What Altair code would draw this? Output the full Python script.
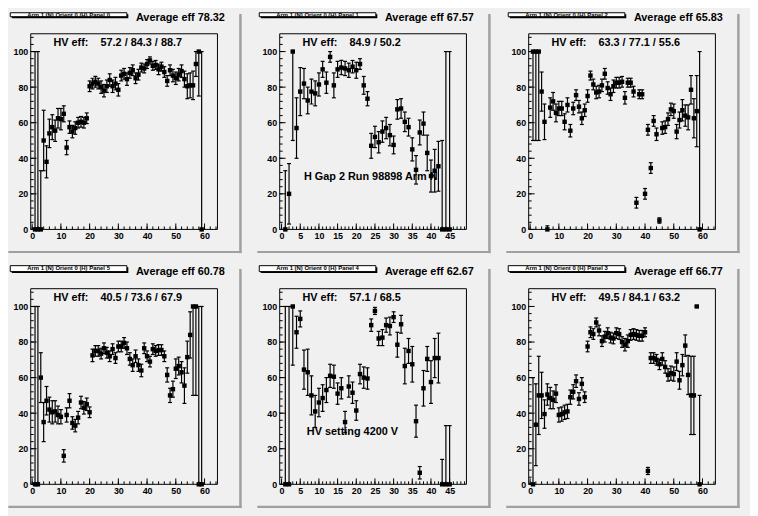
import altair as alt
import pandas as pd

# ---------------- data ----------------
panel_titles = ["Arm 1 (N) Orient 0 (H) Panel 0", "Arm 1 (N) Orient 0 (H) Panel 1",
                "Arm 1 (N) Orient 0 (H) Panel 2", "Arm 1 (N) Orient 0 (H) Panel 5",
                "Arm 1 (N) Orient 0 (H) Panel 4", "Arm 1 (N) Orient 0 (H) Panel 3"]
avg_eff = ["78.32", "67.57", "65.83", "60.78", "62.67", "66.77"]
hv_eff = ["57.2 / 84.3 / 88.7", "84.9 / 50.2", "63.3 / 77.1 / 55.6",
          "40.5 / 73.6 / 67.9", "57.1 / 68.5", "49.5 / 84.1 / 63.2"]
notes = [None, "H Gap 2 Run 98898 Arm N", None, None, "HV setting 4200 V", None]
x_last = [64, 49, 64, 64, 49, 64]
x_major_65 = [0, 10, 20, 30, 40, 50, 60]
x_major_50 = [0, 5, 10, 15, 20, 25, 30, 35, 40, 45]
y_major = [0, 20, 40, 60, 80, 100]

eff_p0 = [0, 0, 0, 50, 38, 54, 57.5, 55.5, 62.5, 62,
          65, 46, 57.5, 55, 57, 60, 60.5, 60, 62.5, 80.5,
          82, 83, 82, 80, 78, 80.5, 84, 80.5, 82, 78.5,
          86.5, 87.5, 84.5, 88, 89.5, 85, 87, 91, 90.5, 93,
          95, 92, 92.5, 90, 91.5, 88.5, 83.5, 89.5, 86.5, 85,
          87, 89, 84.5, 80.5, 81, 81, 93, 100, 0]
err_p0 = [100, 100, 33, 17, 9, 8, 7, 6, 5.5, 6,
          4.5, 4, 3.5, 3.5, 3.5, 3, 3, 3, 3, 3,
          3, 3, 3, 3.5, 3.5, 3.5, 3.5, 3.5, 3.5, 3.5,
          3, 3, 3.5, 3, 3, 3, 3, 2.5, 2.5, 2.5,
          2, 2.5, 2.5, 3, 2.5, 3, 3, 3, 3.5, 3.5,
          3.5, 3.5, 4.5, 7, 7, 8, 7, 25, 100]

eff_p1 = [0, 20, 100, 57, 77.5, 82, 72.5, 77.5, 76.5, 81.5,
          90, 82.5, 97, 81, 90, 91, 90.5, 89.5, 91.5, 89.5,
          93, 81, 73.5, 47, 52, 49, 55, 57, 53, 47.5,
          67.5, 68, 60.5, 57.5, 45, 33.5, 54.5, 59.5, 43, 30,
          33, 35.5, 0, 0, 0]
err_p1 = [33, 17, 50, 17, 13.5, 8.5, 7.5, 7, 7, 6.5,
          4.5, 6, 3, 7, 4.5, 4, 4, 4, 3.5, 4.5,
          3, 5, 4, 7, 6, 6, 6, 6, 6, 5,
          5.5, 5.5, 5.5, 5, 6.5, 8, 7, 6.5, 10, 9,
          12, 14, 50, 100, 100]

eff_p2 = [100, 100, 100, 77.5, 60.5, 0, 68.5, 72, 65.5, 68,
          68, 60.5, 70, 55.5, 68, 75.5, 69, 62.5, 67, 75,
          86.5, 81.5, 77, 77.5, 81, 87.5, 79.5, 76, 80.5, 82.5,
          82.5, 83, 74, 82.5, 82.5, 77.5, 15, 76, 76, 20,
          56, 34.5, 61, 53.5, 5, 57, 57.5, 62, 67.5, 66.5,
          55, 61.5, 67, 64, 63, 78.5, 62.5, 66.5, 0]
err_p2 = [50, 50, 50, 11, 10, 2, 5.5, 5, 5, 4,
          4, 4.5, 4, 3.5, 3.5, 3, 3.5, 3.5, 3.5, 3.5,
          2.5, 3, 3.5, 3.5, 3.5, 3, 3.5, 3.5, 3.5, 3,
          3, 3, 3.5, 2.5, 2.5, 3, 3, 2.5, 2.5, 3,
          3, 3, 3, 3.5, 1.5, 3.5, 3.5, 3.5, 3.5, 4,
          4, 4.5, 6, 6, 7, 8, 11, 20, 100]

eff_p5 = [0, 0, 60, 35, 47, 42, 40.5, 41, 39, 38,
          16, 39, 47, 34.5, 33, 37.5, 46, 43, 45, 40.5,
          72.5, 75, 75, 73.5, 76.5, 74, 72, 76, 71, 77.5,
          77.5, 79.5, 76.5, 70.5, 67, 72, 67, 64, 76.5, 72,
          69, 76, 75, 75.5, 75.5, 72, 61.5, 50, 53.5, 65,
          66.5, 63, 55.5, 71.5, 84, 100, 100, 0, 0]
err_p5 = [100, 100, 14, 11, 8, 7, 6.5, 6, 5, 4,
          3.5, 4, 4, 3.5, 3.5, 3.5, 3.5, 3.5, 3.5, 3,
          3.5, 3, 3, 3, 3, 3, 3, 3, 3, 3,
          3, 3, 3.5, 3.5, 3.5, 3.5, 3.5, 3.5, 3, 3,
          3, 3, 3, 3, 3, 3, 4, 4, 4.5, 5.5,
          5, 6, 10, 9, 13, 50, 50, 100, 100]

eff_p4 = [0, 0, 100, 85.5, 93, 64.5, 63, 50, 41, 46,
          48.5, 53, 61, 60.5, 51, 54, 35, 55, 51.5, 41.5,
          62, 60, 59.5, 89.5, 97.5, 82, 82.5, 89.5, 89, 94,
          78.5, 90, 66.5, 75, 67.5, 35.5, 6.5, 54, 70.5, 57.5,
          71, 71, 0, 0, 0]
err_p4 = [100, 100, 33, 9, 4.5, 11, 13, 11, 9, 8,
          7.5, 7, 6.5, 6.5, 6, 6, 6, 6, 6, 5.5,
          5.5, 6, 6, 3.5, 2, 4, 4.5, 4, 5, 3,
          7, 5, 10, 7, 10, 9, 3.5, 10, 7, 12,
          11, 14, 14, 33, 33]

eff_p3 = [0, 33.5, 50, 50, 39.5, 50.5, 48.5, 47.5, 51, 39,
          39.5, 40.5, 41, 49, 52, 58, 48, 56.5, 49, 77.5,
          85.5, 84.5, 91, 86.5, 80.5, 83, 85, 82.5, 82, 85,
          84.5, 80, 78.5, 80.5, 84, 84.5, 84, 83.5, 83.5, 85.5,
          7.5, 71, 71, 70, 67.5, 70.5, 66, 61.5, 62.5, 62,
          69, 58.5, 67, 78, 61.5, 50, 50, 100, 0]
err_p3 = [60, 23, 22, 13, 8, 6, 6, 5, 5, 4,
          4, 4, 4, 4, 4, 3.5, 3.5, 3.5, 3, 3,
          3, 3, 2.5, 3, 3, 3, 3, 3, 3, 3,
          3, 3, 3.5, 3.5, 3, 3, 3, 3, 3, 2.5,
          2, 3, 3, 3, 3, 3.5, 3.5, 3.5, 4, 4,
          5, 5, 6, 6, 11, 22, 22, 0, 50]

panel_eff = [eff_p0, eff_p1, eff_p2, eff_p5, eff_p4, eff_p3]
panel_err = [err_p0, err_p1, err_p2, err_p5, err_p4, err_p3]

# ---------------- style ----------------
BG = "#f0f0f0"
SHADOW = "#a0a0a0"
FONT = "Liberation Sans"
W, H = 189, 198


def make_panel(i):
    row = i // 3
    vals = panel_eff[i]
    errs = panel_err[i]
    bins = list(range(1, len(vals) + 1))
    lo = [max(0, v - e) for v, e in zip(vals, errs)]
    hi = [min(100, v + e) for v, e in zip(vals, errs)]
    df = pd.DataFrame({"bin": bins, "eff": vals, "lo": lo, "hi": hi})
    caps = pd.DataFrame({"bin": bins + bins, "v": lo + hi})

    last = x_last[i]
    xs = alt.Scale(domain=[-0.5, last + 0.5], nice=False, zero=False)
    ys = alt.Scale(domain=[0, 110], nice=False, zero=False)
    xmaj = x_major_65 if last == 64 else x_major_50
    xmin = list(range(0, last + 1, 2)) if last == 64 else list(range(0, last + 1))
    ymin = list(range(0, 110, 4))

    common = dict(title=None, grid=False, domain=False, ticks=False, tickSize=0,
                  labelFont=FONT, labelFontWeight="bold", labelFontSize=9,
                  labelColor="black", labelFlush=False, labelOverlap=False, zindex=2)
    xax = alt.Axis(values=xmaj, labelPadding=2, **common)
    yax = alt.Axis(values=y_major, labelPadding=3, **common)

    one = pd.DataFrame({"k": [0]})
    layers = []
    # pad background
    layers.append(alt.Chart(one).mark_rect(color=BG).encode(
        x=alt.value(-22.7), x2=alt.value(223.3), y=alt.value(-21.3), y2=alt.value(228.7)))
    # pad shadow (right and bottom)
    layers.append(alt.Chart(one).mark_rect(color=SHADOW).encode(
        x=alt.value(211), x2=alt.value(213.5), y=alt.value(-20), y2=alt.value(222)))
    layers.append(alt.Chart(one).mark_rect(color=SHADOW).encode(
        x=alt.value(-22.7), x2=alt.value(213.5), y=alt.value(219.8), y2=alt.value(222)))
    # title pave
    top = -21.3 if row == 0 else -23.3
    layers.append(alt.Chart(one).mark_rect(color="black").encode(
        x=alt.value(-19.2), x2=alt.value(98.8), y=alt.value(top + 1.5), y2=alt.value(-15.8)))
    layers.append(alt.Chart(one).mark_rect(fill="white", stroke="black", strokeWidth=1).encode(
        x=alt.value(-20.7), x2=alt.value(97.3), y=alt.value(top), y2=alt.value(-17.3)))
    layers.append(alt.Chart(one).mark_text(
        text=panel_titles[i], font=FONT, fontSize=6, fontWeight="bold",
        align="center", baseline="middle", color="black").encode(
        x=alt.value(38.3), y=alt.value(-19.2 if row == 0 else -20.8)))
    # average eff
    layers.append(alt.Chart(one).mark_text(
        text="Average eff " + avg_eff[i], font=FONT, fontSize=11, fontWeight="bold",
        align="right", baseline="middle", color="black").encode(
        x=alt.value(196.5), y=alt.value(-15.8 if row == 0 else -16.8)))

    # ticks (inside, ROOT style)
    layers.append(alt.Chart(pd.DataFrame({"t": xmaj})).mark_rule(color="black", strokeWidth=1).encode(
        x=alt.X("t:Q", scale=xs, axis=xax), y=alt.value(H), y2=alt.value(H - 6)))
    layers.append(alt.Chart(pd.DataFrame({"t": xmin})).mark_rule(color="black", strokeWidth=1).encode(
        x=alt.X("t:Q", scale=xs, axis=xax), y=alt.value(H), y2=alt.value(H - 3)))
    layers.append(alt.Chart(pd.DataFrame({"t": y_major})).mark_rule(color="black", strokeWidth=1).encode(
        y=alt.Y("t:Q", scale=ys, axis=yax), x=alt.value(0), x2=alt.value(6)))
    layers.append(alt.Chart(pd.DataFrame({"t": ymin})).mark_rule(color="black", strokeWidth=1).encode(
        y=alt.Y("t:Q", scale=ys, axis=yax), x=alt.value(0), x2=alt.value(3)))

    # error bars
    layers.append(alt.Chart(df).mark_rule(color="black", strokeWidth=1.2).encode(
        x=alt.X("bin:Q", scale=xs, axis=xax),
        y=alt.Y("lo:Q", scale=ys, axis=yax), y2="hi:Q"))
    layers.append(alt.Chart(caps).mark_tick(color="black", orient="horizontal",
                                            size=4, thickness=1.2, opacity=1).encode(
        x=alt.X("bin:Q", scale=xs, axis=xax),
        y=alt.Y("v:Q", scale=ys, axis=yax)))
    # markers
    layers.append(alt.Chart(df).mark_square(color="black", size=20, opacity=1).encode(
        x=alt.X("bin:Q", scale=xs, axis=xax),
        y=alt.Y("eff:Q", scale=ys, axis=yax)))

    # frame
    layers.append(alt.Chart(one).mark_rect(fill=None, stroke="black", strokeWidth=1).encode(
        x=alt.value(0), x2=alt.value(W), y=alt.value(0), y2=alt.value(H)))

    # texts
    layers.append(alt.Chart(one).mark_text(
        text="HV eff:\u00a0\u00a0\u00a0 " + hv_eff[i], font=FONT, fontSize=11, fontWeight="bold",
        align="left", baseline="middle", color="black").encode(
        x=alt.value(23), y=alt.value(9)))
    if notes[i]:
        layers.append(alt.Chart(one).mark_text(
            text=notes[i], font=FONT, fontSize=11, fontWeight="bold",
            align="left", baseline="middle", color="black").encode(
            x=alt.value(24.5 if i == 1 else 27.5), y=alt.value(144.7)))

    return alt.layer(*layers).properties(width=W, height=H)


panels = [make_panel(i) for i in range(6)]

chart = alt.concat(*panels, columns=3, spacing={"row": 60, "column": 63},
                   bounds="flush").configure(
    background=BG, padding=0
).configure_view(stroke=None)

chart.save("out.html", embed_options={"renderer": "svg", "actions": False})
